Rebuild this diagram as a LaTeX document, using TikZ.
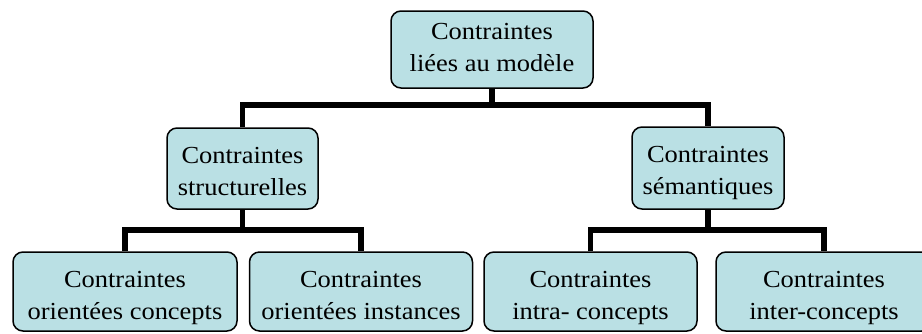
\documentclass[tikz,border=0pt]{standalone}
\usepackage{fontspec}
\setmainfont{Liberation Serif}[FakeStretch=1.08]
\definecolor{boxfill}{RGB}{186,224,228}
\newcommand{\boxtext}[4]{\raisebox{0pt}[#1][#2]{\begin{tabular}[t]{@{}c@{}}#3\\#4\end{tabular}}}
\begin{document}
\begin{tikzpicture}[x=1pt,y=-1pt,
  box/.style={draw=black, line width=1.5pt, fill=boxfill, rounded corners=10pt,
    inner sep=0pt, font=\fontsize{24.5}{32}\selectfont},
  link/.style={line width=5.5pt}]
\clip (0,0) rectangle (922,333);
\node[box, minimum width=202pt] (top) at (492,49.5) {\boxtext{28pt}{49pt}{Contraintes}{liées au modèle}};
\node[box, minimum width=151pt] (struct) at (242.5,168.5) {\boxtext{35pt}{46pt}{Contraintes}{structurelles}};
\node[box, minimum width=152pt] (sem) at (708,168) {\boxtext{35pt}{47pt}{Contraintes}{sémantiques}};
\node[box, minimum width=224pt] (b1) at (125,291.5) {\boxtext{35pt}{44pt}{Contraintes}{orientées concepts}};
\node[box, minimum width=223pt] (b2) at (361,291.5) {\boxtext{35pt}{44pt}{Contraintes}{orientées instances}};
\node[box, minimum width=213pt] (b3) at (590.5,291.5) {\boxtext{35pt}{44pt}{Contraintes}{intra- concepts}};
\node[box, minimum width=216pt] (b4) at (824,291.5) {\boxtext{35pt}{44pt}{Contraintes}{inter-concepts}};
\coordinate (j0) at (492,105);
\coordinate (j1) at (242.5,230);
\coordinate (j2) at (708,230);
\draw[link] (top.south) -- (j0);
\draw[link] (struct.north) |- (j0) -| (sem.north);
\draw[link] (struct.south) -- (j1);
\draw[link] (b1.north) |- (j1) -| (b2.north);
\draw[link] (sem.south) -- (j2);
\draw[link] (b3.north) |- (j2) -| (b4.north);
\end{tikzpicture}
\end{document}
